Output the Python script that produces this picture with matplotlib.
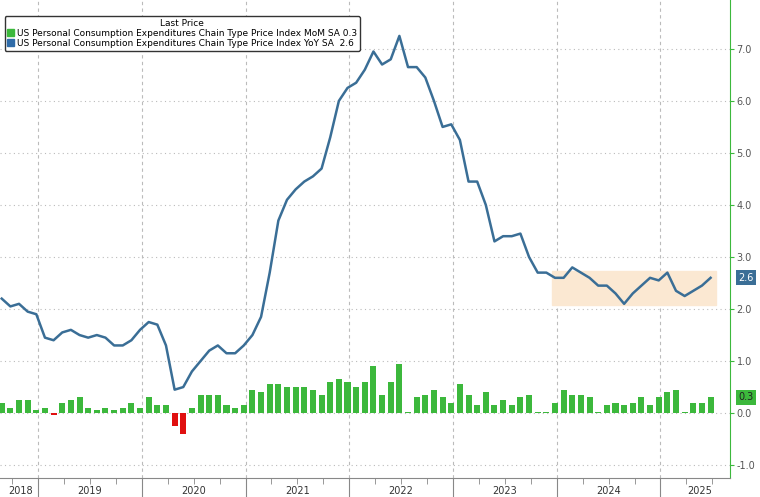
import matplotlib
matplotlib.use("Agg")
import matplotlib.pyplot as plt
import numpy as np
from matplotlib.patches import Patch

years = ["2018", "2019", "2020", "2021", "2022", "2023", "2024", "2025"]
yoy = [2.2, 2.05, 2.1, 1.95, 1.9,
       1.45, 1.4, 1.55, 1.6, 1.5, 1.45, 1.5, 1.45, 1.3, 1.3, 1.4, 1.6,
       1.75, 1.7, 1.3, 0.45, 0.5, 0.8, 1.0, 1.2, 1.3, 1.15, 1.15, 1.3,
       1.5, 1.85, 2.7, 3.7, 4.1, 4.3, 4.45, 4.55, 4.7, 5.3, 6.0, 6.25,
       6.35, 6.6, 6.95, 6.7, 6.8, 7.25, 6.65, 6.65, 6.45, 6.0, 5.5, 5.55,
       5.25, 4.45, 4.45, 4.0, 3.3, 3.4, 3.4, 3.45, 3.0, 2.7, 2.7, 2.6,
       2.6, 2.8, 2.7, 2.6, 2.45, 2.45, 2.3, 2.1, 2.3, 2.45, 2.6, 2.55,
       2.7, 2.35, 2.25, 2.35, 2.45, 2.6]
mom = [0.2, 0.1, 0.25, 0.25, 0.05, 0.1, -0.03, 0.2, 0.25, 0.3, 0.1,
       0.05, 0.1, 0.05, 0.1, 0.2, 0.1, 0.3, 0.15, 0.15, -0.25,
       -0.4, 0.1, 0.35, 0.35, 0.35, 0.15, 0.1, 0.15, 0.45, 0.4,
       0.55, 0.55, 0.5, 0.5, 0.5, 0.45, 0.35, 0.6, 0.65, 0.6,
       0.5, 0.6, 0.9, 0.35, 0.6, 0.95, 0.02, 0.3, 0.35, 0.45,
       0.3, 0.2, 0.55, 0.35, 0.15, 0.4, 0.15, 0.25, 0.15, 0.3,
       0.35, 0.02, 0.02, 0.2, 0.45, 0.35, 0.35, 0.3, 0.02, 0.15,
       0.2, 0.15, 0.2, 0.3, 0.15, 0.3, 0.4, 0.45, 0.02, 0.2,
       0.2, 0.3]
start_month = 7.8  # months since Jan 2018

x = np.arange(len(yoy)) + start_month
xb = np.arange(len(mom)) + start_month
fig = plt.figure(figsize=(7.6, 4.97), dpi=100)
ax = fig.add_axes([0, 0.038, 0.96, 0.962])
ax.set_xlim(7.6, 92)
ax.set_ylim(-1.25, 7.94)

ax.add_patch(plt.Rectangle((71.5, 2.08), 18.9, 0.65, color="#fbe8d2", zorder=1))
cols = ["#3cb83c" if v >= 0 else "#e01010" for v in mom]
ax.bar(xb, mom, width=0.7, color=cols, zorder=2)
ax.plot(x, yoy, color="#3a6e96", lw=1.8, zorder=3)

for yv in range(-1, 8):
    ax.axhline(yv, color="#bbbbbb", ls=(0, (1, 3)), lw=0.8, zorder=0)
for i in range(1, len(years)):
    ax.axvline(12 * i, color="#bbbbbb", ls=(0, (3, 3)), lw=0.8, zorder=0)

ax.yaxis.tick_right()
ax.set_yticks(range(-1, 8))
ax.set_yticklabels([f"{v:.1f}" for v in range(-1, 8)], fontsize=7, color="#555555")
ax.tick_params(axis="y", colors="#3cb83c", labelcolor="#555555", length=3, pad=2)
ax.set_xticks([12 * i for i in range(1, len(years))])
ax.set_xticks(np.arange(9, 92, 3), minor=True)
ax.tick_params(axis="x", which="major", length=18, color="#888888", labelbottom=False)
ax.tick_params(axis="x", which="minor", length=4, color="#888888")
for i, yr in enumerate(years):
    c = 12 * i + 6
    if i == 0:
        c = 10
    if i == len(years) - 1:
        c = 12 * i + 4.5
    ax.text(c, -0.026, yr, transform=ax.get_xaxis_transform(), ha="center", va="center",
            fontsize=7, color="#333333")
for s in ["top", "left"]:
    ax.spines[s].set_visible(False)
ax.spines["right"].set_color("#3cb83c")
ax.spines["bottom"].set_color("#888888")

ax.annotate(f"{yoy[-1]:.1f}", xy=(1, yoy[-1]), xycoords=("axes fraction", "data"), xytext=(6, 0),
            textcoords="offset points", va="center", fontsize=7, color="white",
            bbox=dict(boxstyle="square,pad=0.25", fc="#3a6e96", ec="none"), annotation_clip=False)
ax.annotate(f"{mom[-1]:.1f}", xy=(1, mom[-1]), xycoords=("axes fraction", "data"), xytext=(6, 0),
            textcoords="offset points", va="center", fontsize=7, color="#222222",
            bbox=dict(boxstyle="square,pad=0.25", fc="#3cb83c", ec="none"), annotation_clip=False)

leg = ax.legend(handles=[Patch(color="#3cb83c"), Patch(color="#2f6ba8")],
                labels=["US Personal Consumption Expenditures Chain Type Price Index MoM SA 0.3",
                        "US Personal Consumption Expenditures Chain Type Price Index YoY SA  2.6"],
                title="Last Price", loc="upper left", bbox_to_anchor=(0.0, 0.975), fontsize=6.5,
                title_fontsize=6.5, handlelength=0.8, handleheight=0.8, handletextpad=0.3,
                borderpad=0.3, labelspacing=0.1, framealpha=1, edgecolor="#333333", fancybox=True)
fig.savefig("out.png", dpi=100)
